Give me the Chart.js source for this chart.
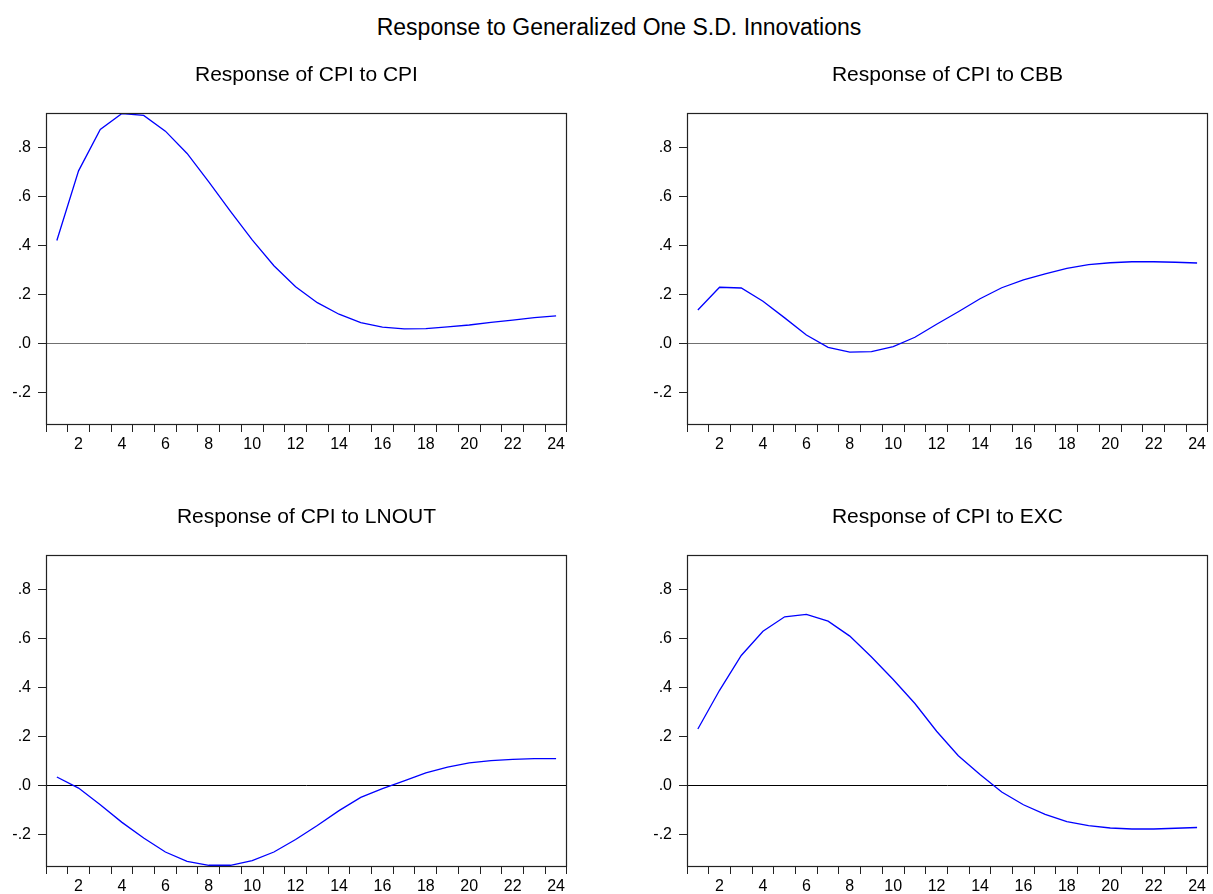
<!DOCTYPE html>
<html>
<head>
<meta charset="utf-8">
<script src="https://cdn.jsdelivr.net/npm/chart.js@4.4.0/dist/chart.umd.min.js"></script>
<style>
    html, body { margin: 0; padding: 0; background: #fff; overflow: hidden; }
    body { width: 1213px; height: 894px; position: relative; font-family: "Liberation Sans", Arial, sans-serif; }
    #main-title {
        position: absolute; top: 14px; left: 619px; transform: translateX(-50%);
        font-size: 23px; line-height: 26px; white-space: nowrap; color: #000;
    }
    canvas { position: absolute; }
</style>
</head>
<body>
<div id="main-title">Response to Generalized One S.D. Innovations</div>
<canvas id="irf-cpi" width="568" height="416" style="left:0px; top:40px"></canvas>
<canvas id="irf-cbb" width="568" height="416" style="left:641px; top:40px"></canvas>
<canvas id="irf-lnout" width="568" height="416" style="left:0px; top:482px"></canvas>
<canvas id="irf-exc" width="568" height="416" style="left:641px; top:482px"></canvas>
<script>
// periods after the shock
const horizons = [1, 2, 3, 4, 5, 6, 7, 8, 9, 10, 11, 12, 13, 14, 15, 16, 17, 18, 19, 20, 21, 22, 23, 24];

// response of CPI
const cpiToCpi = [0.421, 0.705, 0.874, 0.939, 0.931, 0.867, 0.776, 0.660, 0.540, 0.423, 0.318, 0.232,
                  0.167, 0.120, 0.086, 0.067, 0.060, 0.061, 0.068, 0.076, 0.087, 0.096, 0.106, 0.113];
const cpiToCbb = [0.137, 0.230, 0.227, 0.173, 0.105, 0.035, -0.015, -0.035, -0.033, -0.012, 0.026, 0.079,
                  0.130, 0.183, 0.228, 0.260, 0.285, 0.307, 0.322, 0.330, 0.334, 0.334, 0.332, 0.329];
const cpiToLnout = [0.035, -0.010, -0.078, -0.150, -0.214, -0.271, -0.309, -0.325, -0.325, -0.306, -0.271, -0.220,
                    -0.163, -0.102, -0.048, -0.012, 0.019, 0.052, 0.075, 0.093, 0.102, 0.107, 0.110, 0.110];
const cpiToExc = [0.231, 0.389, 0.531, 0.630, 0.689, 0.699, 0.671, 0.610, 0.525, 0.433, 0.335, 0.222,
                  0.122, 0.045, -0.026, -0.078, -0.117, -0.147, -0.163, -0.173, -0.177, -0.177, -0.174, -0.171];

const yTickValues = [-0.2, 0, 0.2, 0.4, 0.6, 0.8];
const yMin = -0.328;
const yMax = 0.941;

const panelTitles = ['Response of CPI to CPI', 'Response of CPI to CBB', 'Response of CPI to LNOUT', 'Response of CPI to EXC'];

const fontFamily = '"Liberation Sans", Arial, sans-serif';

// EViews style labels: .8, .0, -.2
function formatTick(v) {
    const s = Math.abs(v).toFixed(1).replace(/^0/, '');
    return (v < 0 ? '-' : '') + s;
}

// box around the plot area (chart.js only draws the left and bottom borders)
const framePlugin = {
    id: 'frame',
    afterDraw(chart) {
        const { ctx, chartArea: a } = chart;
        ctx.save();
        ctx.strokeStyle = '#222';
        ctx.lineWidth = 1.2;
        ctx.strokeRect(Math.round(a.left) + 0.5, Math.round(a.top) + 0.5,
                       Math.round(a.right - a.left) - 1, Math.round(a.bottom - a.top));
        ctx.restore();
    }
};

function makePanel(canvasId, title, values, zeroColor) {
    const ctx = document.getElementById(canvasId).getContext('2d');
    return new Chart(ctx, {
        type: 'line',
        data: {
            labels: horizons,
            datasets: [{
                data: values,
                borderColor: '#0000ff',
                borderWidth: 1.3,
                pointRadius: 0,
                tension: 0,
                fill: false
            }]
        },
        options: {
            responsive: false,
            animation: false,
            layout: { padding: 0 },
            plugins: {
                legend: { display: false },
                tooltip: { enabled: false },
                title: {
                    display: true,
                    fullSize: false, // centre over the plot box, not the canvas
                    text: title,
                    color: '#000',
                    font: { family: fontFamily, size: 21, weight: 'normal' },
                    padding: { top: 23, bottom: 24.8 }
                }
            },
            scales: {
                x: {
                    type: 'category',
                    offset: true,
                    grid: { offset: true, drawOnChartArea: false, drawTicks: true, tickLength: 8, tickColor: '#222', tickWidth: 1 },
                    border: { display: false },
                    ticks: {
                        autoSkip: false,
                        maxRotation: 0,
                        color: '#000',
                        padding: 3,
                        font: { family: fontFamily, size: 16 },
                        callback: (v, i) => (horizons[i] % 2 === 0 ? String(horizons[i]) : '')
                    },
                    afterFit: scale => { scale.height = 32; }
                },
                y: {
                    min: yMin,
                    max: yMax,
                    afterBuildTicks: scale => { scale.ticks = yTickValues.map(v => ({ value: v })); },
                    grid: {
                        color: c => (c.tick && c.tick.value === 0 ? zeroColor : 'rgba(0,0,0,0)'),
                        lineWidth: 1,
                        drawTicks: true,
                        tickLength: 8,
                        tickColor: '#222'
                    },
                    border: { display: false },
                    ticks: {
                        color: '#000',
                        padding: 7,
                        font: { family: fontFamily, size: 16 },
                        callback: v => formatTick(v)
                    },
                    afterFit: scale => { scale.width = 46; }
                }
            }
        },
        plugins: [framePlugin]
    });
}

makePanel('irf-cpi', panelTitles[0], cpiToCpi, '#707070');
makePanel('irf-cbb', panelTitles[1], cpiToCbb, '#707070');
makePanel('irf-lnout', panelTitles[2], cpiToLnout, '#000');
makePanel('irf-exc', panelTitles[3], cpiToExc, '#000');
</script>
</body>
</html>
